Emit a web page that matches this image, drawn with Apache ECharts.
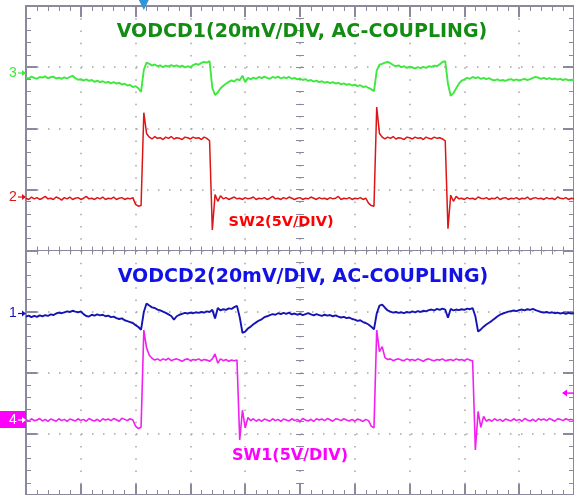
<!DOCTYPE html>
<html>
<head>
<meta charset="utf-8">
<script src="https://cdn.jsdelivr.net/npm/echarts@6/dist/echarts.min.js"></script>
<style>
html,body{margin:0;padding:0;background:#ffffff;}
#chart{width:574px;height:495px;}
</style>
</head>
<body>
<div id="chart"></div>
<script>
// ---------- data ----------
// horizontal sample spacing in screen divisions (10 divisions across)
const SAMPLE_DIV = 0.05;
const X_TICKS = [0, 1, 2, 3, 4, 5, 6, 7, 8, 9, 10];   // time divisions
const Y_TICKS = [-4, -3, -2, -1, 0, 1, 2, 3, 4];       // vertical divisions

// CH3 VODCD1, mV (20 mV/div, AC coupled)
const vodcd1_mV = [
 -1.5,-1.8,-1.2,-1.6,-1.9,-1.3,-1.5,-1.1,-1.7,-1.4,
 -1.2,-1.8,-1.5,-1.9,-1.4,-1.8,-1.3,-0.9,-1.7,-2.2,
 -2.0,-2.5,-2.1,-2.6,-2.3,-2.9,-2.5,-3.0,-2.7,-3.2,
 -2.9,-3.4,-3.0,-3.5,-3.2,-3.8,-3.5,-4.1,-3.9,-4.6,
 -4.3,-5.0,-6.2,1.0,3.4,3.0,2.4,2.8,2.2,2.5,
 1.9,2.4,2.1,2.6,2.2,2.5,2.0,2.4,1.8,2.2,
 1.9,2.6,3.0,2.7,3.3,3.6,3.4,3.9,-4.9,-7.2,
 -6.4,-5.0,-4.2,-3.5,-2.9,-2.4,-2.8,-2.0,-2.4,-0.9,
 -3.0,-1.6,-2.1,-1.5,-1.9,-1.3,-1.7,-1.2,-1.6,-1.9,
 -1.3,-1.6,-1.2,-1.8,-1.4,-1.7,-1.3,-1.9,-1.6,-2.1,
 -1.8,-2.3,-2.0,-2.6,-2.3,-2.8,-2.5,-3.0,-2.7,-3.2,
 -2.9,-3.3,-3.0,-3.5,-3.2,-3.7,-3.4,-3.9,-3.6,-4.1,
 -3.8,-4.3,-4.0,-4.6,-4.4,-4.9,-5.3,-6.0,0.8,2.7,
 3.0,3.4,3.6,3.2,2.6,2.2,2.5,1.9,2.2,1.7,
 2.1,1.8,1.5,1.9,1.6,2.0,1.7,2.2,2.0,2.4,
 2.2,2.9,3.6,3.9,-3.5,-7.5,-6.6,-5.0,-3.5,-2.5,
 -2.1,-1.6,-1.9,-1.3,-1.7,-1.4,-1.9,-1.6,-2.0,-1.7,
 -2.2,-2.4,-2.1,-2.5,-2.3,-2.6,-2.2,-2.0,-2.4,-2.1,
 -2.5,-2.2,-1.9,-2.3,-2.0,-1.6,-1.3,-1.5,-1.9,-1.6,
 -2.0,-1.7,-2.1,-1.8,-2.2,-1.9,-2.3,-2.0,-2.4,-2.2,
 -2.3
];

// CH2 SW2, V (5 V/div)
const sw2_V = [
 -0.10,-0.20,0.00,-0.15,-0.05,-0.20,-0.10,0.05,-0.15,-0.10,
 -0.20,0.00,-0.10,-0.25,-0.05,-0.15,0.00,-0.20,-0.10,-0.05,
 -0.20,-0.10,0.05,-0.15,-0.10,-0.20,-0.05,-0.15,0.00,-0.20,
 -0.10,-0.15,0.00,-0.20,-0.10,-0.05,-0.20,-0.10,-0.15,-0.05,
 -0.60,-0.75,-0.70,6.90,5.20,4.90,4.75,4.95,4.80,4.85,
 4.70,4.90,4.80,4.95,4.75,4.85,4.80,4.70,4.90,4.85,
 4.75,4.90,4.80,4.85,4.70,4.90,4.80,4.60,-2.70,0.20,
 -0.35,0.10,-0.15,-0.05,-0.20,-0.10,0.00,-0.15,-0.10,-0.20,
 -0.05,-0.15,-0.10,0.00,-0.20,-0.10,-0.15,-0.05,-0.20,-0.10,
 0.05,-0.15,-0.10,-0.20,-0.05,-0.15,0.00,-0.10,-0.20,-0.10,
 -0.05,-0.20,-0.10,-0.15,0.00,-0.10,-0.20,-0.05,-0.15,-0.10,
 -0.20,-0.05,-0.15,-0.10,0.05,-0.20,-0.10,-0.15,-0.05,-0.20,
 -0.10,-0.15,-0.05,-0.20,-0.10,-0.50,-0.70,-0.75,7.36,5.20,
 4.90,4.75,4.90,4.80,4.95,4.75,4.85,4.80,4.70,4.90,
 4.85,4.75,4.90,4.80,4.85,4.70,4.90,4.80,4.75,4.90,
 4.80,4.85,4.75,4.60,-2.60,0.15,-0.35,0.05,-0.15,-0.10,
 -0.20,-0.05,-0.15,-0.10,-0.20,0.00,-0.10,-0.15,-0.05,-0.20,
 -0.10,-0.15,0.00,-0.20,-0.10,-0.05,-0.20,-0.10,-0.15,-0.05,
 -0.20,-0.10,-0.15,0.00,-0.20,-0.10,-0.05,-0.15,-0.10,-0.20,
 -0.05,-0.15,-0.10,-0.20,0.00,-0.10,-0.15,-0.05,-0.20,-0.10,
 -0.15
];

// CH1 VODCD2, mV (20 mV/div, AC coupled)
const vodcd2_mV = [
 -1.0,-0.7,-1.2,-0.8,-1.1,-0.6,-0.9,-0.5,-0.8,-0.3,
 -0.5,0.0,0.3,0.1,0.4,0.7,0.5,0.9,0.6,0.4,
 0.7,-0.2,-0.8,-1.0,-0.4,-0.7,-0.3,-0.6,-0.4,-0.9,
 -0.7,-1.2,-1.0,-1.5,-1.8,-1.6,-2.2,-2.5,-2.8,-3.1,
 -3.8,-4.4,-5.3,0.5,3.3,2.6,2.0,1.8,1.3,1.0,
 0.6,0.2,-0.3,-0.8,-2.0,-0.9,-0.4,-0.1,0.2,0.0,
 0.3,0.1,0.4,0.2,0.5,0.3,0.7,0.5,1.2,-1.6,
 1.8,1.0,1.4,1.2,1.7,1.5,2.1,2.5,-1.2,-6.3,
 -5.9,-4.9,-4.3,-3.5,-2.9,-2.3,-1.9,-1.2,-0.9,-0.5,
 -0.2,-0.4,0.1,-0.2,0.2,-0.1,0.3,-0.3,0.0,-0.4,
 -0.1,-0.5,-0.2,0.1,-0.3,-0.6,-0.2,-0.5,-0.8,-0.4,
 -0.7,-0.5,-0.9,-0.6,-1.0,-1.3,-1.1,-1.5,-1.3,-1.8,
 -2.0,-2.4,-2.2,-2.8,-3.1,-3.6,-4.3,-5.2,0.0,2.6,
 2.9,1.9,1.0,0.6,0.3,0.5,0.2,0.4,0.1,0.5,
 0.3,0.7,0.4,0.8,0.5,0.9,0.7,1.1,1.3,1.0,
 1.5,1.2,1.6,1.3,-1.4,1.5,1.0,1.3,1.1,1.4,
 1.2,1.6,1.4,1.8,-0.9,-5.9,-5.2,-4.3,-3.6,-3.0,
 -2.4,-1.7,-1.0,-0.4,0.0,0.3,0.6,0.8,1.0,0.8,
 1.1,1.3,1.0,1.4,1.2,1.5,1.1,0.8,0.5,0.3,
 0.5,0.2,0.4,0.1,0.3,0.0,0.2,-0.1,0.2,0.0,
 0.1
];

// CH4 SW1, V (5 V/div)
const sw1_V = [
 0.05,-0.10,0.10,-0.05,0.00,0.12,-0.08,0.05,-0.12,0.08,
 0.00,-0.10,0.10,-0.05,0.05,-0.12,0.08,0.00,-0.08,0.10,
 -0.05,0.05,-0.10,0.12,0.00,-0.08,0.06,-0.12,0.10,0.00,
 0.08,-0.05,0.12,0.02,-0.10,0.15,0.05,-0.05,0.10,0.00,
 -0.50,-0.70,-0.60,7.36,5.90,5.30,5.05,4.90,5.00,4.85,
 5.00,4.90,5.05,4.85,4.95,5.00,4.90,4.80,4.95,5.00,
 4.85,4.95,4.90,5.00,4.85,4.95,4.90,4.80,5.00,5.40,
 4.65,5.00,4.85,4.95,4.80,4.90,4.85,4.90,-1.64,0.80,
 -0.65,0.20,-0.05,0.10,-0.10,0.05,-0.12,0.08,0.00,-0.10,
 0.10,-0.05,0.05,-0.12,0.08,0.00,-0.08,0.10,-0.05,0.05,
 -0.10,0.12,0.00,-0.08,0.06,-0.12,0.10,0.00,0.08,-0.05,
 0.12,0.02,-0.10,0.10,0.05,-0.05,0.10,0.00,-0.08,0.05,
 -0.10,0.08,0.00,-0.12,0.05,-0.05,-0.50,-0.65,7.36,5.60,
 6.00,5.10,4.95,5.00,4.85,4.95,5.00,4.90,4.85,5.00,
 4.90,4.95,4.85,5.00,4.90,4.80,4.95,5.00,4.90,4.85,
 4.95,4.90,5.00,4.85,4.90,4.95,4.85,5.00,4.90,4.95,
 4.85,5.00,4.90,4.85,-2.45,0.70,-0.60,0.30,-0.10,0.05,
 -0.10,0.10,-0.05,0.05,-0.12,0.08,0.00,-0.08,0.10,-0.05,
 0.05,-0.10,0.12,0.00,-0.08,0.06,-0.12,0.10,0.00,0.08,
 -0.05,0.12,0.02,-0.10,0.10,0.05,-0.05,0.10,0.00,0.05,
 -0.05
];

// channel settings: scale per division and ground-marker offset (divisions from centre)
const CH_NAMES   = ['3', '2', '1', '4'];
const CH_SCALES  = [20, 5, 20, 5];
const CH_OFFSETS = [2.904, 0.875, -1.031, -2.773];
const CH_COLORS  = ['#3fe83f', '#dd1515', '#1414b4', '#f020f0'];
const CH_WIDTHS  = [1.9, 1.5, 1.9, 1.6];
const CH_DATA    = [vodcd1_mV, sw2_V, vodcd2_mV, sw1_V];

const TRIG_TIME_DIV = 2.15;   // trigger position marker
const TRIG_LEVEL_V = 2.2;     // CH4 trigger level

const LABELS = [
  {text: 'VODCD1(20mV/DIV, AC-COUPLING)', color: '#138c13', x: 302, y: 32, size: 19},
  {text: 'SW2(5V/DIV)', color: '#ff0000', x: 281, y: 222, size: 14.5},
  {text: 'VODCD2(20mV/DIV, AC-COUPLING)', color: '#1212e6', x: 303, y: 277, size: 19},
  {text: 'SW1(5V/DIV)', color: '#ff00ff', x: 290, y: 456, size: 16}
];

// ---------- chart ----------
const GRID_COL = '#8a8a9c';
const DOT_COL = '#a5a5a5';
const chart = echarts.init(document.getElementById('chart'), null, {renderer: 'canvas'});
const G = {left: 26, top: 6, width: 550, height: 489};

function borderAxis(extra) {
  return Object.assign({
    type: 'value', interval: 1,
    axisLine: {show: true, onZero: false, lineStyle: {color: GRID_COL, width: 2}},
    axisTick: {show: true, inside: true, length: 11, lineStyle: {color: GRID_COL, width: 2}},
    minorTick: {show: true, splitNumber: 5, length: 5, lineStyle: {color: GRID_COL, width: 1}},
    axisLabel: {show: false},
    splitLine: {show: false},
    minorSplitLine: {show: false}
  }, extra);
}
function centreAxis(gridIndex, min, max, inside, showLine) {
  return {
    gridIndex, type: 'value', min, max, interval: 1,
    axisLine: {show: true, onZero: true, lineStyle: {color: GRID_COL, width: 1, opacity: showLine ? 1 : 0}},
    axisTick: {show: true, inside, length: 4, lineStyle: {color: GRID_COL, width: 1}},
    minorTick: {show: true, splitNumber: 5, length: 4, lineStyle: {color: GRID_COL, width: 1}},
    axisLabel: {show: false}, splitLine: {show: false}
  };
}

const xMin = X_TICKS[0], xMax = X_TICKS[X_TICKS.length - 1];
const yMin = Y_TICKS[0], yMax = Y_TICKS[Y_TICKS.length - 1];

const series = CH_DATA.map((arr, c) => ({
  type: 'line', xAxisIndex: 0, yAxisIndex: 0,
  data: arr.map((v, i) => [i * SAMPLE_DIV, CH_OFFSETS[c] + v / CH_SCALES[c]]),
  showSymbol: false, symbol: 'none', silent: true, animation: false,
  lineStyle: {color: CH_COLORS[c], width: CH_WIDTHS[c]},
  z: 5
}));

chart.setOption({
  animation: false,
  backgroundColor: '#ffffff',
  grid: [Object.assign({}, G), Object.assign({}, G), Object.assign({}, G)],
  xAxis: [
    borderAxis({gridIndex: 0, position: 'bottom', min: xMin, max: xMax,
      splitLine: {show: true, lineStyle: {color: DOT_COL, width: 1.5, type: [1.5, 10.725]}}}),
    borderAxis({gridIndex: 0, position: 'top', min: xMin, max: xMax}),
    centreAxis(1, -5, 5, true, true),
    centreAxis(2, -5, 5, false, false)
  ],
  yAxis: [
    borderAxis({gridIndex: 0, position: 'left', min: yMin, max: yMax,
      splitLine: {show: true, lineStyle: {color: DOT_COL, width: 1.5, type: [1.5, 9.5]}}}),
    borderAxis({gridIndex: 0, position: 'right', min: yMin, max: yMax}),
    centreAxis(1, yMin, yMax, true, false),
    centreAxis(2, yMin, yMax, false, false)
  ],
  series
});

// ---------- markers and captions ----------
const graphic = [];
CH_NAMES.forEach((name, c) => {
  const p = chart.convertToPixel({gridIndex: 0}, [xMin, CH_OFFSETS[c]]);
  const y = p[1], x0 = p[0];
  const boxed = name === '4';
  const col = boxed ? '#ffffff' : CH_COLORS[c];
  if (boxed) {
    graphic.push({type: 'rect', shape: {x: 0, y: y - 9, width: x0, height: 17}, style: {fill: '#ff00ff'}, z: 10});
  }
  graphic.push({type: 'text', x: 9, y: y, style: {text: name, fill: col, font: '14px "Liberation Sans"', textVerticalAlign: 'middle'}, z: 11});
  graphic.push({type: 'line', shape: {x1: x0 - 8, y1: y, x2: x0 - 2, y2: y}, style: {stroke: col, lineWidth: 1.2}, z: 11});
  graphic.push({type: 'polygon', shape: {points: [[x0, y], [x0 - 4, y - 3], [x0 - 4, y + 3]]}, style: {fill: col}, z: 11});
});
// trigger level arrow (right edge, CH4)
{
  const p = chart.convertToPixel({gridIndex: 0}, [xMax, CH_OFFSETS[3] + TRIG_LEVEL_V / CH_SCALES[3]]);
  const y = p[1];
  graphic.push({type: 'line', shape: {x1: 567, y1: y, x2: 574, y2: y}, style: {stroke: '#ff00ff', lineWidth: 1.5}, z: 11});
  graphic.push({type: 'polygon', shape: {points: [[562, y], [567, y - 3.5], [567, y + 3.5]]}, style: {fill: '#ff00ff'}, z: 11});
}
// trigger position marker (top)
{
  const p = chart.convertToPixel({gridIndex: 0}, [TRIG_TIME_DIV, yMax]);
  const x = p[0];
  graphic.push({type: 'polygon', shape: {points: [[x - 5, 0], [x + 5, 0], [x, 10]]}, style: {fill: '#2f96dc'}, z: 11});
}
LABELS.forEach(l => {
  graphic.push({type: 'text', x: l.x, y: l.y,
    style: {text: l.text, fill: l.color, font: 'bold ' + l.size + 'px "DejaVu Sans"', textAlign: 'center', textVerticalAlign: 'middle'}, z: 12});
});
chart.setOption({graphic});
</script>
</body>
</html>
